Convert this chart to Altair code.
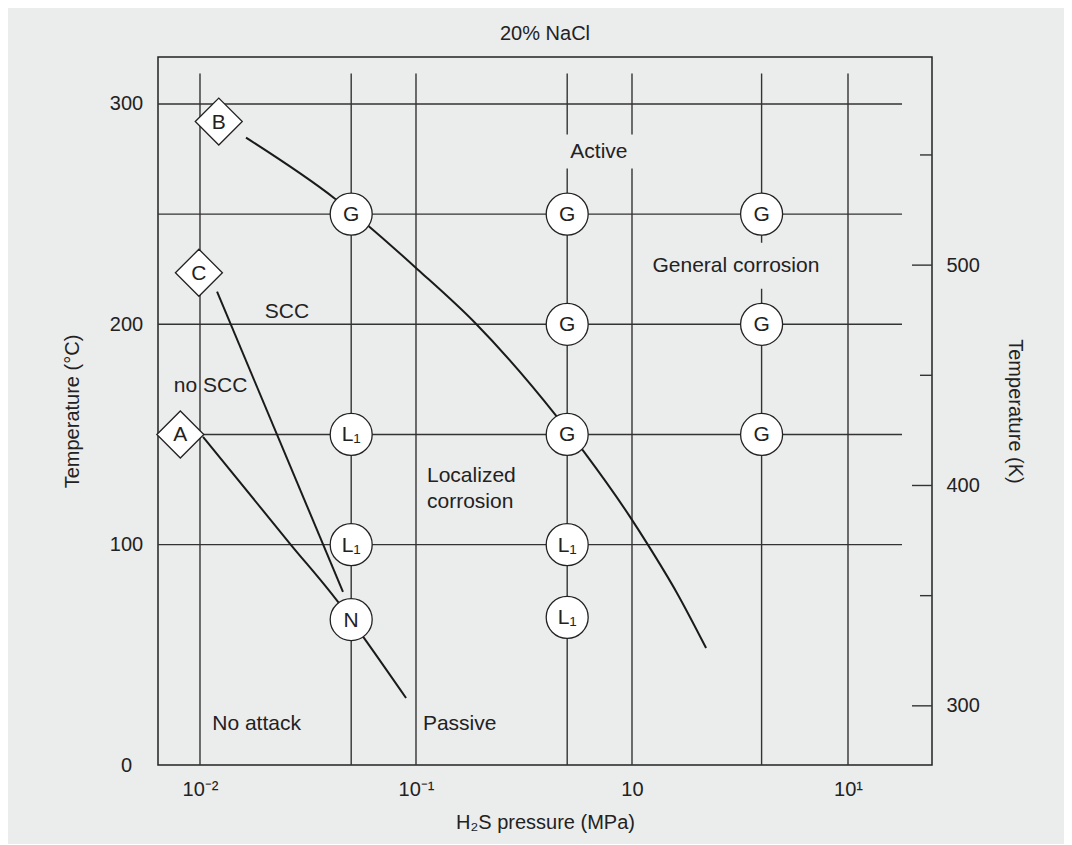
import altair as alt
import pandas as pd

BG = "#ebecec"
INK = "#222222"
GRID = "#333333"
FONT = "Liberation Sans, Arial, Helvetica, sans-serif"

# ---------------- scales / axes ----------------
x_domain = [-0.1944, 3.3889]          # decade index (0 = 10^-2)
y_domain = [0, 321.3]                 # temperature, deg C
PX_PER_U = 216.0

x_tick_pos = [0, 1, 2, 3]
x_tick_text = ["10⁻²", "10⁻¹", "10", "10¹"]
y_left_ticks = [0, 100, 200, 300]
k_major = [300, 400, 500]
k_minor = [350, 450, 550]

# ---------------- grid ----------------
grid_u = [0, 0.7, 1, 1.7, 2, 2.6, 3]
grid_t = [100, 150, 200, 250, 300]
grid_u_end = 3.25
grid_t_top = 313.8

# ---------------- test points ----------------
circle_u = [0.7, 1.7, 2.6, 1.7, 2.6, 0.7, 1.7, 2.6, 0.7, 1.7, 0.7, 1.7]
circle_t = [250, 250, 250, 200, 200, 150, 150, 150, 100, 100, 66, 67]
circle_lbl = ["G", "G", "G", "G", "G", "L₁", "G", "G", "L₁", "L₁", "N", "L₁"]

diamond_u = [0.087, -0.005, -0.091]
diamond_t = [292.0, 223.4, 150.0]
diamond_lbl = ["B", "C", "A"]

# ---------------- boundary curves ----------------
curveB_u = [0.213, 0.625, 0.773, 1.009, 1.273, 1.653, 1.778, 1.991, 2.074, 2.208, 2.343]
curveB_t = [284.7, 257.0, 245.2, 224.8, 200.7, 158.0, 142.1, 112.6, 99.9, 78.1, 53.1]
lineC_u = [0.079, 0.662]
lineC_t = [214.8, 78.6]
lineA_u = [0.014, 0.417, 0.639, 0.759, 0.954]
lineA_t = [148.9, 100.4, 74.0, 57.7, 30.4]

# ---------------- region labels ----------------
lab_c_text = ["Active", "General corrosion", "SCC", "no SCC", "No attack"]
lab_c_u = [1.847, 2.481, 0.403, 0.049, 0.262]
lab_c_t = [278.4, 226.6, 205.7, 172.1, 18.4]
lab_l_text = ["Localized", "corrosion", "Passive"]
lab_l_u = [1.051, 1.051, 1.032]
lab_l_t = [131.2, 119.4, 18.8]

# ---------------- build ----------------
xs = alt.Scale(domain=x_domain, nice=False, zero=False)
ys = alt.Scale(domain=y_domain, nice=False, zero=False)

lbl_expr = " : ".join(
    f"datum.value == {p} ? '{t}'" for p, t in zip(x_tick_pos[:-1], x_tick_text[:-1])
) + f" : '{x_tick_text[-1]}'"

x_axis = alt.Axis(
    values=x_tick_pos, labelExpr=lbl_expr, orient="bottom", ticks=False, tickSize=0,
    domain=False, grid=False, labelFlush=False, labelPadding=14, labelBaseline="top",
    labelFont=FONT, labelFontSize=20, labelColor=INK,
    title="H₂S pressure (MPa)", titleFont=FONT, titleFontSize=20, titleFontWeight="normal",
    titleColor=INK, titleX=387, titleY=57, titleAlign="center", titleBaseline="middle",
)
left_axis = alt.Axis(
    values=y_left_ticks, orient="left", ticks=False, tickSize=0, domain=False, grid=False,
    labelFlush=False, labelAlign="center", labelBaseline="middle", labelPadding=32,
    labelFont=FONT, labelFontSize=20, labelColor=INK,
    title="Temperature (°C)", titleFont=FONT, titleFontSize=20, titleFontWeight="normal",
    titleColor=INK, titleAngle=270, titleX=-86, titleY=354, titleAlign="center",
    titleBaseline="middle",
)
right_axis = alt.Axis(
    values=[k - 273.15 for k in k_major], labelExpr="format(datum.value + 273.15, '.0f')",
    orient="right", ticks=False, tickSize=0, domain=False, grid=False, labelFlush=False,
    labelAlign="left", labelBaseline="middle", labelPadding=14,
    labelFont=FONT, labelFontSize=20, labelColor=INK,
    title="Temperature (K)", titleFont=FONT, titleFontSize=20, titleFontWeight="normal",
    titleColor=INK, titleAngle=90, titleX=82, titleY=354, titleAlign="center",
    titleBaseline="middle",
)

vgrid_df = pd.DataFrame({"u": grid_u, "y0": [0] * len(grid_u), "y1": [grid_t_top] * len(grid_u)})
hgrid_df = pd.DataFrame({"t": grid_t, "x0": [x_domain[0]] * len(grid_t), "x1": [grid_u_end] * len(grid_t)})

maj_len = 20 / PX_PER_U
min_len = 12 / PX_PER_U
kt_df = pd.DataFrame({
    "t": [k - 273.15 for k in k_major] + [k - 273.15 for k in k_minor],
    "x0": [x_domain[1] - maj_len] * len(k_major) + [x_domain[1] - min_len] * len(k_minor),
    "x1": [x_domain[1]] * (len(k_major) + len(k_minor)),
})

curves_df = pd.concat([
    pd.DataFrame({"u": curveB_u, "t": curveB_t, "c": "B", "o": range(len(curveB_u))}),
    pd.DataFrame({"u": lineC_u, "t": lineC_t, "c": "C", "o": range(len(lineC_u))}),
    pd.DataFrame({"u": lineA_u, "t": lineA_t, "c": "A", "o": range(len(lineA_u))}),
])
circ_df = pd.DataFrame({"u": circle_u, "t": circle_t, "lbl": circle_lbl})
diam_df = pd.DataFrame({"u": diamond_u, "t": diamond_t, "lbl": diamond_lbl})
letters_df = pd.concat([circ_df, diam_df])
labc_df = pd.DataFrame({"u": lab_c_u, "t": lab_c_t, "txt": lab_c_text})
labl_df = pd.DataFrame({"u": lab_l_u, "t": lab_l_t, "txt": lab_l_text})


def X(f):
    # identical axis spec on every layer so that the shared x axis merges cleanly
    return alt.X(f, type="quantitative", scale=xs, axis=x_axis)


def Y(f, axis=None):
    return alt.Y(f, type="quantitative", scale=ys, axis=axis)


vgrid = alt.Chart(vgrid_df).mark_rule(color=GRID, strokeWidth=1.4).encode(
    x=X("u"), y=Y("y0", left_axis), y2="y1"
)
hgrid = alt.Chart(hgrid_df).mark_rule(color=GRID, strokeWidth=1.4).encode(
    x=X("x0"), x2="x1", y=Y("t")
)
kticks = alt.Chart(kt_df).mark_rule(color=GRID, strokeWidth=1.4).encode(
    x=X("x0"), x2="x1", y=Y("t", right_axis)
)


def knockout(label, w, h):
    r = h / w
    path = f"M-1,-{r:.4f}L1,-{r:.4f}L1,{r:.4f}L-1,{r:.4f}Z"
    d = labc_df[labc_df["txt"] == label]
    return alt.Chart(d).mark_point(
        shape=path, size=w * w, filled=True, color=BG, opacity=1, strokeWidth=0
    ).encode(x=X("u"), y=Y("t"))


ko_active = knockout("Active", 72, 34)
ko_general = knockout("General corrosion", 176, 46)

curves = alt.Chart(curves_df).mark_line(
    color="#1a1a1a", strokeWidth=2, interpolate="monotone"
).encode(x=X("u"), y=Y("t"), detail="c:N", order="o:Q")

circles = alt.Chart(circ_df).mark_point(
    shape="circle", size=1764, filled=True, fill="white", stroke=INK, strokeWidth=1.3, opacity=1
).encode(x=X("u"), y=Y("t"))

diamonds = alt.Chart(diam_df).mark_point(
    shape="diamond", size=2209, filled=True, fill="white", stroke=INK, strokeWidth=1.3, opacity=1
).encode(x=X("u"), y=Y("t"))

letters = alt.Chart(letters_df).mark_text(
    font=FONT, fontSize=21, color=INK, align="center", baseline="middle", dy=1
).encode(x=X("u"), y=Y("t"), text="lbl:N")

labels_c = alt.Chart(labc_df).mark_text(
    font=FONT, fontSize=21, color=INK, align="center", baseline="middle"
).encode(x=X("u"), y=Y("t"), text="txt:N")

labels_l = alt.Chart(labl_df).mark_text(
    font=FONT, fontSize=21, color=INK, align="left", baseline="middle"
).encode(x=X("u"), y=Y("t"), text="txt:N")

chart = alt.layer(
    vgrid, hgrid, kticks, ko_active, ko_general, curves, circles, diamonds, letters,
    labels_c, labels_l,
).resolve_axis(y="independent", x="shared").properties(
    width=774,
    height=708,
    autosize=alt.AutoSizeParams(type="none"),
    padding={"left": 150, "top": 49, "right": 132, "bottom": 79},
    background=BG,
    title=alt.TitleParams(
        "20% NaCl", font=FONT, fontSize=20, fontWeight="normal", color=INK,
        anchor="middle", frame="group", baseline="middle", offset=3,
    ),
).configure_view(stroke=INK, strokeWidth=1.5)

chart.save("out.html", embed_options={"renderer": "svg", "actions": False})
